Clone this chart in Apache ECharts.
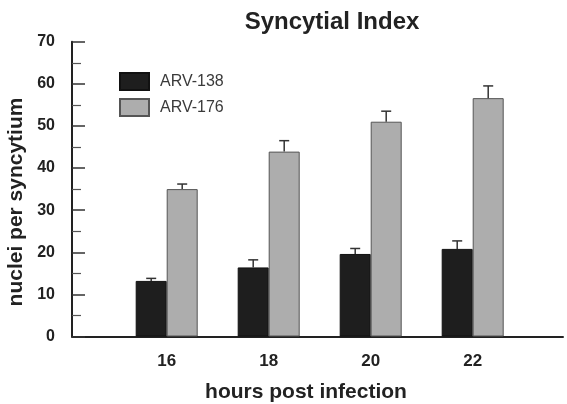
<!DOCTYPE html>
<html>
<head>
<meta charset="utf-8">
<script src="https://cdn.jsdelivr.net/npm/echarts@6/dist/echarts.min.js"></script>
<style>html,body{margin:0;padding:0;background:#fff}#c{width:567px;height:404px}</style>
</head>
<body>
<div id="c"></div>
<script>
var categories = ['16', '18', '20', '22'];
var arv138 = [13.2, 16.4, 19.6, 20.8];
var arv138Err = [13.8, 18.2, 20.9, 22.7];
var arv176 = [35.0, 43.9, 51.0, 56.6];
var arv176Err = [36.2, 46.5, 53.5, 59.5];
var yTicks = [0, 10, 20, 30, 40, 50, 60, 70];

var FONT = '"Liberation Sans", Arial, sans-serif';
var chart = echarts.init(document.getElementById('c'), null, {renderer: 'canvas'});

function errData(vals, tops) {
  return vals.map(function (v, i) { return [i, v, tops[i]]; });
}
function errSeries(name, vals, tops, offset) {
  return {
    type: 'custom', name: name + ' err', xAxisIndex: 1, yAxisIndex: 1, z: 5,
    silent: true,
    data: errData(vals, tops),
    renderItem: function (params, api) {
      var base = api.coord([api.value(0), api.value(1)]);
      var top = api.coord([api.value(0), api.value(2)]);
      var x = base[0] + offset;
      return {
        type: 'group',
        children: [
          {type: 'line', shape: {x1: x, y1: base[1], x2: x, y2: top[1]}, style: {stroke: '#333', lineWidth: 1.5}},
          {type: 'line', shape: {x1: x - 5, y1: top[1], x2: x + 5, y2: top[1]}, style: {stroke: '#333', lineWidth: 1.5}}
        ]
      };
    }
  };
}

var option = {
  backgroundColor: '#fff',
  animation: false,
  grid: [
    {left: 72, right: 4, top: 41.7, bottom: 67.5},
    {left: 115.7, right: 43.3, top: 41.7, bottom: 67.5}
  ],
  xAxis: [
    {type: 'value', gridIndex: 0, min: 0, max: 1,
     axisLine: {show: true, lineStyle: {color: '#222', width: 2}},
     axisTick: {show: false}, axisLabel: {show: false}, splitLine: {show: false}},
    {type: 'category', gridIndex: 1, data: categories,
     axisLine: {show: false}, axisTick: {show: false}, splitLine: {show: false},
     axisLabel: {color: '#222', fontFamily: FONT, fontWeight: 'bold', fontSize: 17, margin: 16}}
  ],
  yAxis: [
    {type: 'value', gridIndex: 0, min: 0, max: 70, interval: 10,
     axisLine: {show: true, lineStyle: {color: '#222', width: 2}},
     axisTick: {show: true, inside: true, length: 13, lineStyle: {color: '#333', width: 1.5}},
     minorTick: {show: true, splitNumber: 2, length: 9, lineStyle: {color: '#555', width: 1.2}},
     splitLine: {show: false},
     axisLabel: {color: '#222', fontFamily: FONT, fontWeight: 'bold', fontSize: 16, margin: 17,
       formatter: function (v) { return yTicks.indexOf(v) >= 0 ? String(v) : ''; }}},
    {type: 'value', gridIndex: 1, min: 0, max: 70, interval: 10, show: false}
  ],
  legend: {
    orient: 'vertical', left: 114, top: 67, itemWidth: 29, itemHeight: 17, itemGap: 7,
    icon: 'rect', data: ['ARV-138', 'ARV-176'],
    textStyle: {color: '#3a3a3a', fontFamily: FONT, fontSize: 16, padding: [0, 0, 0, 6]}
  },
  graphic: [
    {type: 'text', x: 332, y: 22, style: {text: 'Syncytial Index', font: 'bold 24px ' + FONT, fill: '#222', textAlign: 'center', textVerticalAlign: 'middle', align: 'center', verticalAlign: 'middle'}},
    {type: 'text', x: 306, y: 392, style: {text: 'hours post infection', font: 'bold 21px ' + FONT, fill: '#222', textAlign: 'center', textVerticalAlign: 'middle', align: 'center', verticalAlign: 'middle'}},
    {type: 'text', x: 16, y: 202, rotation: Math.PI / 2, style: {text: 'nuclei per syncytium', font: 'bold 21px ' + FONT, fill: '#222', textAlign: 'center', textVerticalAlign: 'middle', align: 'center', verticalAlign: 'middle'}}
  ],
  series: [
    {type: 'bar', name: 'ARV-138', xAxisIndex: 1, yAxisIndex: 1, data: arv138, barWidth: 31, barGap: '0%',
     itemStyle: {color: '#1e1e1e', borderColor: '#111', borderWidth: 1}},
    {type: 'bar', name: 'ARV-176', xAxisIndex: 1, yAxisIndex: 1, data: arv176, barWidth: 31, barGap: '0%',
     itemStyle: {color: '#adadad', borderColor: '#555', borderWidth: 1}},
    errSeries('ARV-138', arv138, arv138Err, -15.5),
    errSeries('ARV-176', arv176, arv176Err, 15.5)
  ]
};
chart.setOption(option);
</script>
</body>
</html>
